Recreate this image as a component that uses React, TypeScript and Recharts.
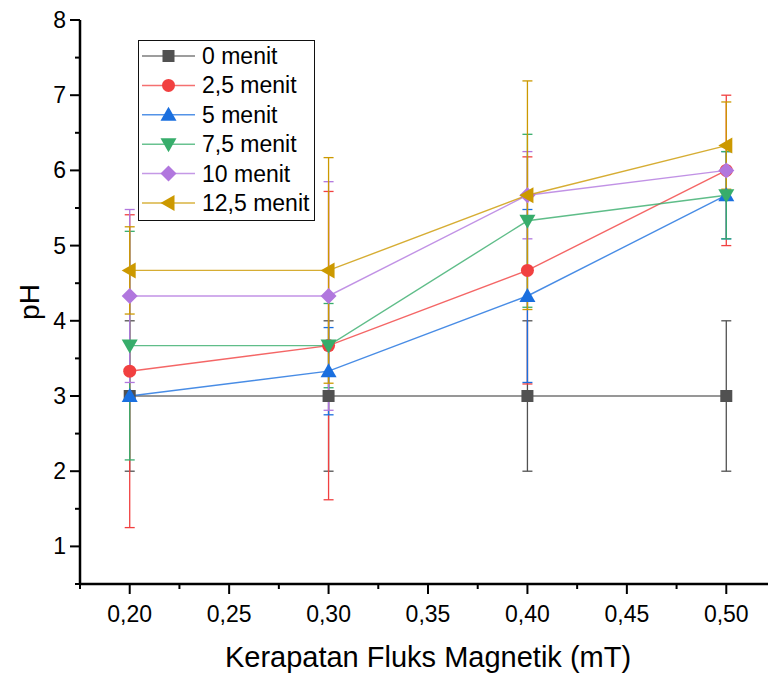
import { LineChart, Line, XAxis, YAxis, ErrorBar, Legend } from 'recharts'

// x values: magnetic flux density (mT)
const fluks = [0.2, 0.3, 0.4, 0.5]

// mean pH and standard deviation per exposure time
const ph0 = [3, 3, 3, 3]
const sd0 = [1, 1, 1, 1]
const ph25 = [3.33, 3.67, 4.67, 6]
const sd25 = [2.08, 2.05, 1.51, 1]
const ph5 = [3, 3.33, 4.33, 5.67]
const sd5 = [0, 0.58, 1.15, 0.58]
const ph75 = [3.67, 3.67, 5.33, 5.67]
const sd75 = [1.52, 0.56, 1.15, 0.58]
const ph10 = [4.33, 4.33, 5.67, 6]
const sd10 = [1.15, 1.52, 0.58, 0]
const ph125 = [4.67, 4.67, 5.67, 6.33]
const sd125 = [0.58, 1.5, 1.52, 0.58]

const xMajor = [0.2, 0.25, 0.3, 0.35, 0.4, 0.45, 0.5]
const xMinor = [0.175, 0.225, 0.275, 0.325, 0.375, 0.425, 0.475, 0.525]
const yMajor = [1, 2, 3, 4, 5, 6, 7, 8]
const yMinor = [0.5, 1.5, 2.5, 3.5, 4.5, 5.5, 6.5, 7.5]

const FONT = 'Liberation Sans, Arial, Helvetica, sans-serif'

type Shape = 'square' | 'circle' | 'up' | 'down' | 'diamond' | 'left'

const series = [
  { key: 'm0', name: '0 menit', color: '#515151', shape: 'square' as Shape, ph: ph0, sd: sd0 },
  { key: 'm25', name: '2,5 menit', color: '#F14040', shape: 'circle' as Shape, ph: ph25, sd: sd25 },
  { key: 'm5', name: '5 menit', color: '#1A6FDF', shape: 'up' as Shape, ph: ph5, sd: sd5 },
  { key: 'm75', name: '7,5 menit', color: '#37AD6B', shape: 'down' as Shape, ph: ph75, sd: sd75 },
  { key: 'm10', name: '10 menit', color: '#B177DE', shape: 'diamond' as Shape, ph: ph10, sd: sd10 },
  { key: 'm125', name: '12,5 menit', color: '#CC9900', shape: 'left' as Shape, ph: ph125, sd: sd125 },
]

const rows = fluks.map((x, i) => {
  const row: Record<string, number> = { x }
  series.forEach((s) => {
    row[s.key] = s.ph[i]
    row[s.key + 'Err'] = s.sd[i]
  })
  return row
})

const xTicks = [...xMajor, ...xMinor].sort((a, b) => a - b)
const yTicks = [...yMajor, ...yMinor].sort((a, b) => a - b)
const isMajor = (v: number, list: number[]) => list.some((m) => Math.abs(m - v) < 1e-6)
const fmtX = (v: number) => v.toFixed(2).replace('.', ',')

const Marker = ({ shape, cx, cy, color }: { shape: Shape; cx: number; cy: number; color: string }) => {
  switch (shape) {
    case 'square':
      return <rect x={cx - 6} y={cy - 6} width={12} height={12} fill={color} />
    case 'circle':
      return <circle cx={cx} cy={cy} r={6.5} fill={color} />
    case 'up':
      return <polygon points={`${cx},${cy - 8} ${cx - 8},${cy + 6} ${cx + 8},${cy + 6}`} fill={color} />
    case 'down':
      return <polygon points={`${cx},${cy + 8} ${cx - 8},${cy - 6} ${cx + 8},${cy - 6}`} fill={color} />
    case 'diamond':
      return <polygon points={`${cx},${cy - 8} ${cx + 8},${cy} ${cx},${cy + 8} ${cx - 8},${cy}`} fill={color} />
    default:
      return <polygon points={`${cx - 8},${cy} ${cx + 6},${cy - 8} ${cx + 6},${cy + 8}`} fill={color} />
  }
}

// outward ticks with labels on the bottom axis
const BottomTick = (props: any) => {
  const { x, y, payload } = props
  const major = isMajor(payload.value, xMajor)
  return (
    <g>
      <line x1={x} y1={y} x2={x} y2={y + (major ? 10 : 5)} stroke="#000" strokeWidth={2} />
      {major && (
        <text x={x} y={y + 38} textAnchor="middle" fontSize={23} fontFamily={FONT} fill="#000">
          {fmtX(payload.value)}
        </text>
      )}
    </g>
  )
}

// inward ticks on the top axis
const TopTick = (props: any) => {
  const { x, y, payload } = props
  const major = isMajor(payload.value, xMajor)
  return <line x1={x} y1={y} x2={x} y2={y + (major ? 10 : 5)} stroke="#000" strokeWidth={2} />
}

const LeftTick = (props: any) => {
  const { x, y, payload } = props
  const major = isMajor(payload.value, yMajor)
  return (
    <g>
      <line x1={x} y1={y} x2={x - (major ? 10 : 5)} y2={y} stroke="#000" strokeWidth={2} />
      {major && (
        <text x={x - 14} y={y + 8} textAnchor="end" fontSize={23} fontFamily={FONT} fill="#000">
          {payload.value}
        </text>
      )}
    </g>
  )
}

const RightTick = (props: any) => {
  const { x, y, payload } = props
  const major = isMajor(payload.value, yMajor)
  return <line x1={x} y1={y} x2={x - (major ? 10 : 5)} y2={y} stroke="#000" strokeWidth={2} />
}

const XTitle = (props: any) => {
  const { viewBox } = props
  return (
    <text x={viewBox.x + viewBox.width / 2} y={viewBox.y + 83} textAnchor="middle" fontSize={29} fontFamily={FONT} fill="#000">
      Kerapatan Fluks Magnetik (mT)
    </text>
  )
}

const YTitle = (props: any) => {
  const { viewBox } = props
  const cx = viewBox.x + 19
  const cy = viewBox.y + viewBox.height / 2
  return (
    <text x={cx} y={cy} transform={`rotate(-90, ${cx}, ${cy})`} textAnchor="middle" fontSize={28} fontFamily={FONT} fill="#000">
      pH
    </text>
  )
}

// legend rows follow the series order, not the alphabetical payload order
const LegendBox = () => (
  <div style={{ border: '1.5px solid #111', background: '#fff', width: 177, height: 181, boxSizing: 'border-box' }}>
    <svg width={174} height={178}>
      {series.map((s, i) => {
        const cy = 15 + i * 29.4
        return (
          <g key={s.key}>
            <line x1={3} y1={cy} x2={56} y2={cy} stroke={s.color} strokeWidth={1.5} strokeOpacity={0.75} />
            <Marker shape={s.shape} cx={29.5} cy={cy} color={s.color} />
            <text x={63} y={cy + 8} fontSize={23} fontFamily={FONT} fill="#000">
              {s.name}
            </text>
          </g>
        )
      })}
    </svg>
  </div>
)

export default function App() {
  return (
    <div style={{ position: 'absolute', left: 0, top: 0, width: 768, height: 677, overflow: 'hidden', background: '#fff' }}>
      <LineChart width={800} height={677} data={rows} margin={{ top: 20, right: 24, bottom: 33, left: 20 }}>
        <XAxis
          dataKey="x"
          type="number"
          domain={[0.175, 0.525]}
          ticks={xTicks}
          interval={0}
          allowDataOverflow
          height={60}
          axisLine={{ stroke: '#000', strokeWidth: 2.5 }}
          tickLine={false}
          tickSize={0}
          tickMargin={0}
          tick={BottomTick}
          label={XTitle}
        />
        <XAxis
          xAxisId="top"
          orientation="top"
          type="number"
          domain={[0.175, 0.525]}
          ticks={xTicks}
          interval={0}
          allowDataOverflow
          height={0}
          axisLine={{ stroke: '#000', strokeWidth: 2.5 }}
          tickLine={false}
          tickSize={0}
          tickMargin={0}
          tick={TopTick}
        />
        <YAxis
          type="number"
          domain={[0.5, 8]}
          ticks={yTicks}
          interval={0}
          allowDataOverflow
          width={60}
          axisLine={{ stroke: '#000', strokeWidth: 2.5 }}
          tickLine={false}
          tickSize={0}
          tickMargin={0}
          tick={LeftTick}
          label={YTitle}
        />
        <YAxis
          yAxisId="right"
          orientation="right"
          type="number"
          domain={[0.5, 8]}
          ticks={yTicks}
          interval={0}
          allowDataOverflow
          width={0}
          axisLine={{ stroke: '#000', strokeWidth: 2.5 }}
          tickLine={false}
          tickSize={0}
          tickMargin={0}
          tick={RightTick}
        />
        <Legend
          layout="vertical"
          align="center"
          verticalAlign="middle"
          wrapperStyle={{ left: 138, top: 40, width: 'auto', height: 'auto' }}
          content={LegendBox}
        />
        {series.map((s) => (
          <Line
            key={s.key}
            type="linear"
            dataKey={s.key}
            name={s.name}
            stroke={s.color}
            strokeWidth={s.key === 'm0' ? 2 : 1.4}
            strokeOpacity={s.key === 'm0' ? 0.6 : 0.8}
            isAnimationActive={false}
            activeDot={false}
            dot={(p: any) => <Marker key={`${s.key}-${p.index}`} shape={s.shape} cx={p.cx} cy={p.cy} color={s.color} />}
          >
            <ErrorBar dataKey={s.key + 'Err'} direction="y" width={5} stroke={s.color} strokeWidth={1.3} isAnimationActive={false} />
          </Line>
        ))}
      </LineChart>
    </div>
  )
}
